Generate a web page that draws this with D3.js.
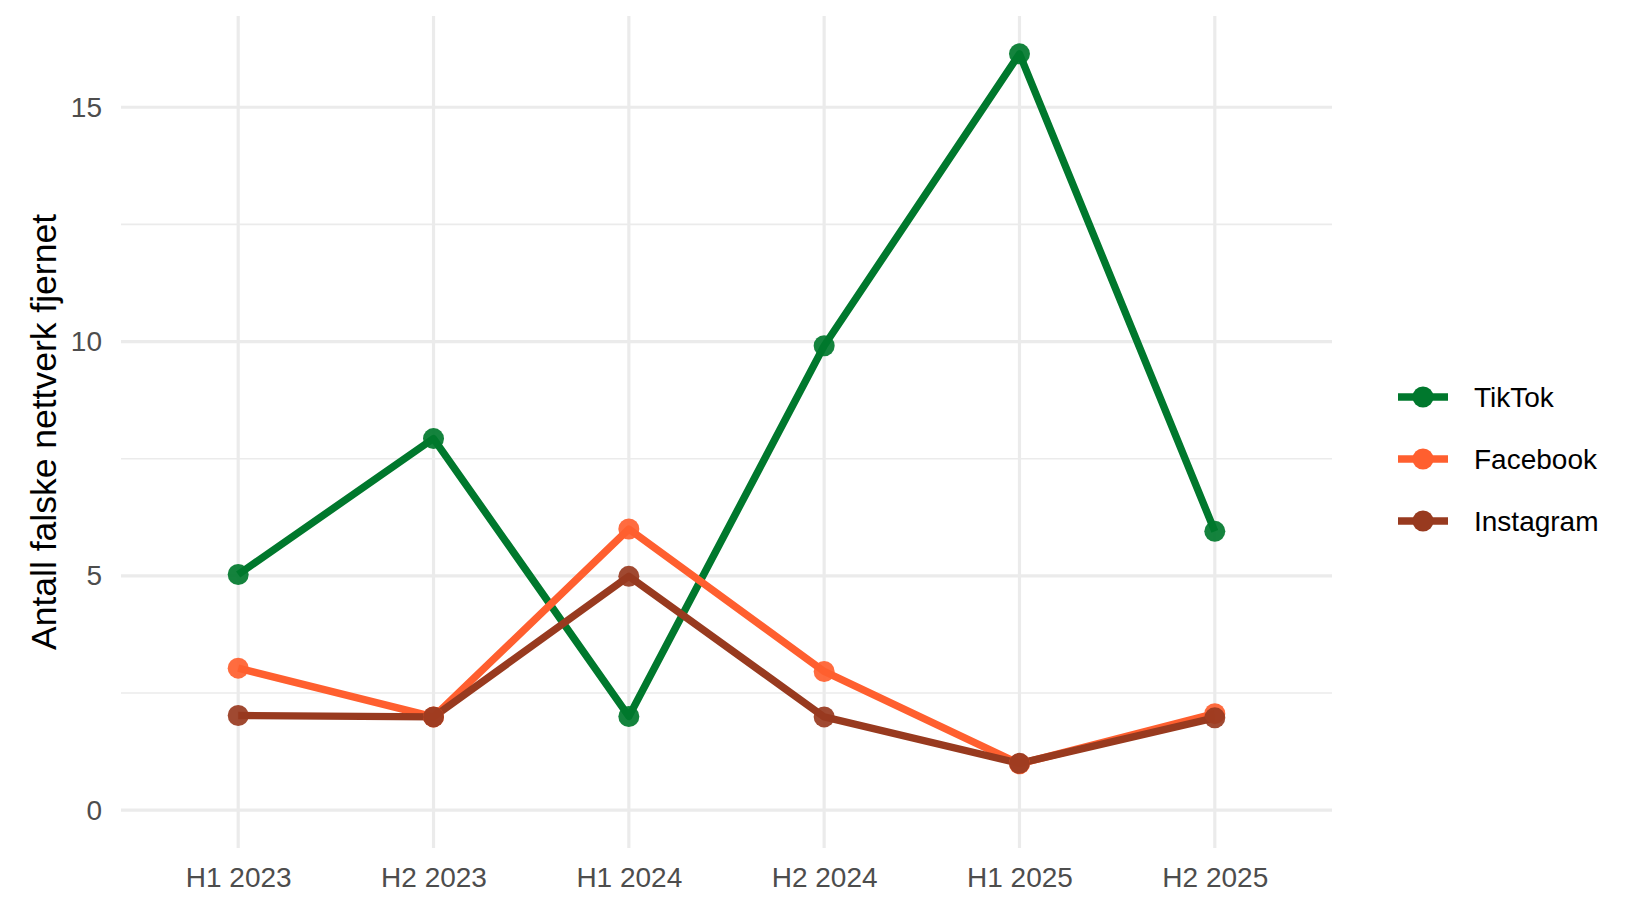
<!DOCTYPE html>
<html>
<head>
<meta charset="utf-8">
<script src="https://cdn.jsdelivr.net/npm/d3@7"></script>
<style>
  html, body { margin: 0; padding: 0; background: #fff; }
  svg { display: block; font-family: "Liberation Sans", Arial, Helvetica, sans-serif; }
</style>
</head>
<body>
<svg id="chart" width="1625" height="915"></svg>
<script>
const categories = ["H1 2023", "H2 2023", "H1 2024", "H2 2024", "H1 2025", "H2 2025"];
const seriesNames = ["TikTok", "Facebook", "Instagram"];
const tiktokValues = [5.03, 7.93, 2.0, 9.91, 16.14, 5.95];
const facebookValues = [3.03, 1.99, 6.0, 2.96, 0.99, 2.06];
const instagramValues = [2.02, 1.99, 4.99, 1.99, 1.0, 1.97];
const seriesColors = ["#00782D", "#FF5F2F", "#983A1F"];
const yTicks = [0, 5, 10, 15];
const yMinorTicks = [2.5, 7.5, 12.5];
const yTitle = "Antall falske nettverk fjernet";

const seriesValues = [tiktokValues, facebookValues, instagramValues];
const series = seriesNames.map((name, i) => ({
  name, color: seriesColors[i],
  points: categories.map((c, j) => ({ cat: c, value: seriesValues[i][j] }))
}));

const svg = d3.select("#chart");
const panel = { left: 121, right: 1332, top: 16, bottom: 848 };

const x = d3.scalePoint()
  .domain(categories)
  .range([panel.left, panel.right])
  .padding(0.6);

const allVals = seriesValues.flat();
const yMax = d3.max(allVals);
const yMinData = 0;
const span = yMax - yMinData;
const y = d3.scaleLinear()
  .domain([yMinData - 0.05 * span, yMax + 0.05 * span])
  .range([panel.bottom, panel.top]);

const grid = svg.append("g");
grid.selectAll("line.minor").data(yMinorTicks).join("line")
  .attr("x1", panel.left).attr("x2", panel.right)
  .attr("y1", d => y(d)).attr("y2", d => y(d))
  .attr("stroke", "#EBEBEB").attr("stroke-width", 1.6);
grid.selectAll("line.majy").data(yTicks).join("line")
  .attr("x1", panel.left).attr("x2", panel.right)
  .attr("y1", d => y(d)).attr("y2", d => y(d))
  .attr("stroke", "#EBEBEB").attr("stroke-width", 3.2);
grid.selectAll("line.majx").data(categories).join("line")
  .attr("x1", d => x(d)).attr("x2", d => x(d))
  .attr("y1", panel.top).attr("y2", panel.bottom)
  .attr("stroke", "#EBEBEB").attr("stroke-width", 3.2);

const yAxis = d3.axisLeft(y).tickValues(yTicks).tickSize(0).tickPadding(19);
const gy = svg.append("g").attr("transform", `translate(${panel.left},0)`).call(yAxis);
gy.select(".domain").remove();
gy.selectAll("text").attr("font-size", 28).attr("fill", "#4D4D4D")
  .attr("font-family", "Liberation Sans, Arial, sans-serif");

const xAxis = d3.axisBottom(x).tickSize(0).tickPadding(19);
const gx = svg.append("g").attr("transform", `translate(0,${panel.bottom})`).call(xAxis);
gx.select(".domain").remove();
gx.selectAll("text").attr("font-size", 28).attr("fill", "#4D4D4D")
  .attr("font-family", "Liberation Sans, Arial, sans-serif");

svg.append("text")
  .attr("transform", `translate(56,${(panel.top + panel.bottom) / 2}) rotate(-90)`)
  .attr("text-anchor", "middle")
  .attr("font-size", 35.5)
  .attr("fill", "#000")
  .text(yTitle);

const line = d3.line().x(d => x(d.cat)).y(d => y(d.value));
svg.append("g").selectAll("path").data(series).join("path")
  .attr("d", d => line(d.points))
  .attr("fill", "none")
  .attr("stroke", d => d.color)
  .attr("stroke-width", 7.4)
  .attr("stroke-linejoin", "round");

const pg = svg.append("g");
series.forEach(s => {
  pg.selectAll(null).data(s.points).join("circle")
    .attr("cx", d => x(d.cat)).attr("cy", d => y(d.value))
    .attr("r", 10.5).attr("fill", s.color).attr("fill-opacity", 0.92);
});

const legend = svg.append("g");
const legendTop = 397, legendStep = 62;
series.forEach((s, i) => {
  const g = legend.append("g").attr("transform", `translate(0,${legendTop + i * legendStep})`);
  g.append("line").attr("x1", 1398).attr("x2", 1448).attr("y1", 0).attr("y2", 0)
    .attr("stroke", s.color).attr("stroke-width", 7.4);
  g.append("circle").attr("cx", 1423).attr("cy", 0).attr("r", 10.5).attr("fill", s.color);
  g.append("text").attr("x", 1474).attr("y", 0).attr("dy", "0.35em")
    .attr("font-size", 28).attr("fill", "#000").text(s.name);
});
</script>
</body>
</html>
